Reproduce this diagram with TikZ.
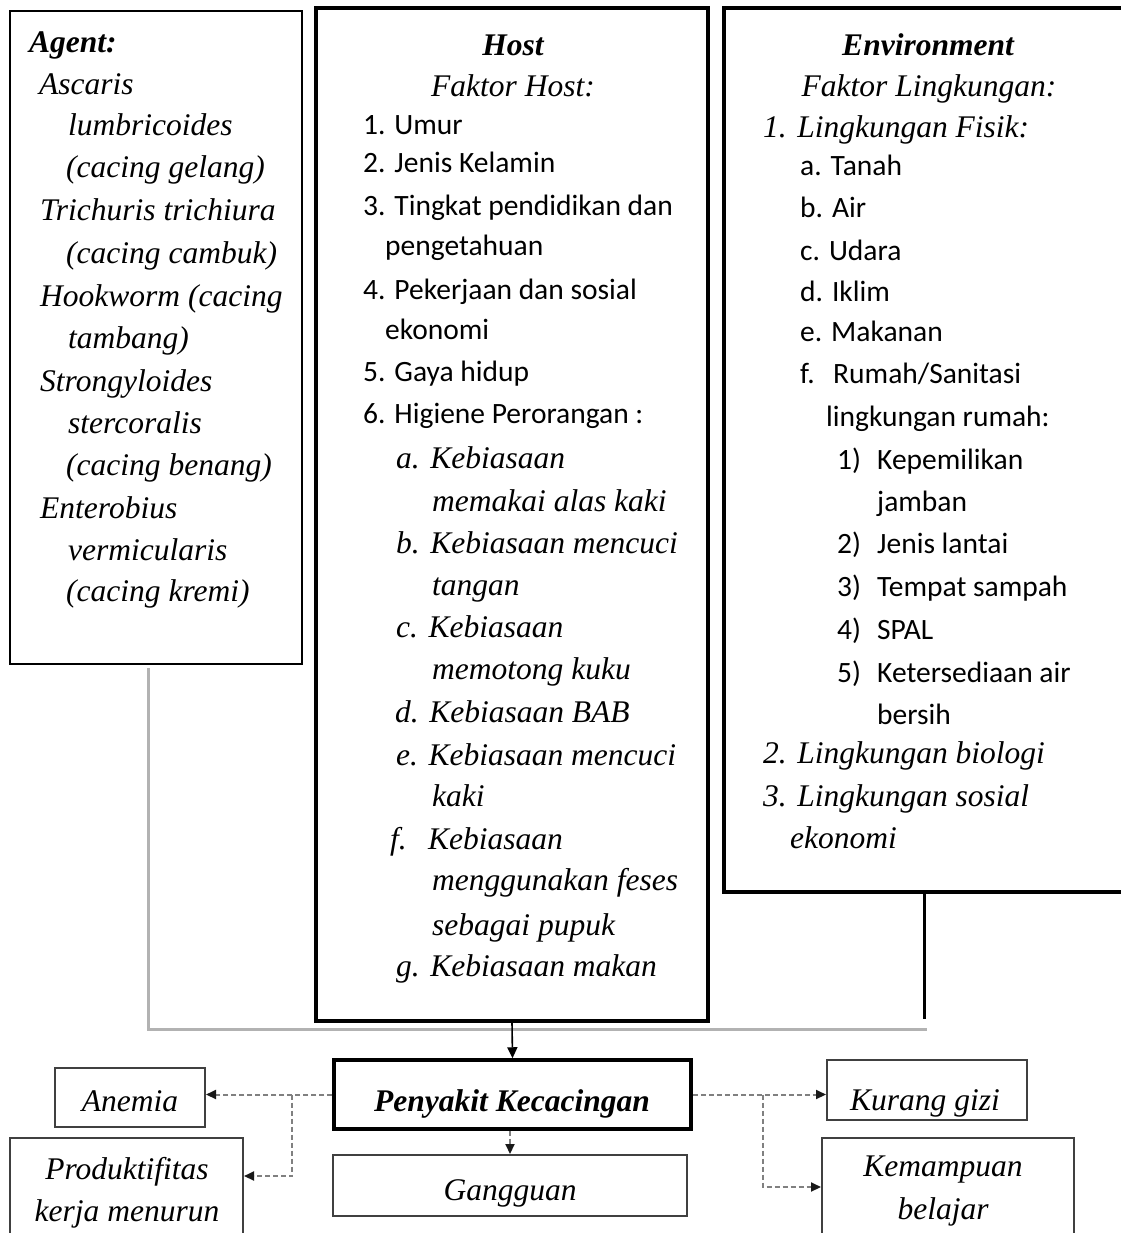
\documentclass[tikz,border=0pt]{standalone}
\usepackage{fontspec}
\setmainfont{Liberation Serif}
\newfontfamily\calfont{Carlito}
\usetikzlibrary{arrows.meta}
\newcommand\serfont{\fontsize{31.5}{38}\selectfont\itshape}
\newcommand\sansfont{\fontsize{29.5}{36}\selectfont\calfont}
\begin{document}
\begin{tikzpicture}[x=1pt,y=-1pt,
  boxthick/.style={draw=black,line width=3.5pt,rectangle,inner sep=0pt},
  boxthin/.style={draw=black,line width=1.6pt,rectangle,inner sep=0pt},
  boxsmall/.style={draw=black!75,line width=2pt,rectangle,inner sep=0pt},
  ser/.style={anchor=base west,inner sep=0pt,font=\serfont,yshift=-3pt},
  sers/.style={anchor=base,inner sep=0pt,font=\serfont,yshift=-3pt},
  sns/.style={anchor=base west,inner sep=0pt,font=\sansfont,yshift=-3pt},
  grayline/.style={draw=black!30,line width=3pt},
  dotarrow/.style={draw=black!50,line width=2pt,dash pattern=on 5pt off 3pt,
     -{Triangle[length=10pt,width=9pt,color=black!90]}},
  solidarrow/.style={draw=black,line width=1.6pt,-{Triangle[length=11pt,width=10pt]}}
]
\useasboundingbox (0,0) rectangle (1120,1233);

% main boxes
\node[boxthin,minimum width=292pt,minimum height=653pt] (agent) at (156,337.5) {};
\node[boxthick,minimum width=392pt,minimum height=1013pt] (host) at (512,514.5) {};
\node[boxthick,minimum width=406pt,minimum height=884pt] (env) at (927,450) {};

% Agent text
\node[ser] (a0) at (29,50) {\bfseries Agent:};
\node[ser] (a1) at (39,92) {Ascaris};
\node[ser] (a2) at (68,133) {lumbricoides};
\node[ser] (a3) at (66,175) {(cacing gelang)};
\node[ser] (a4) at (40,218) {Trichuris trichiura};
\node[ser] (a5) at (66,260) {(cacing cambuk)};
\node[ser] (a6) at (40,303) {Hookworm (cacing};
\node[ser] (a7) at (68,345) {tambang)};
\node[ser] (a8) at (40,388) {Strongyloides};
\node[ser] (a9) at (68,430) {stercoralis};
\node[ser] (a10) at (66,472) {(cacing benang)};
\node[ser] (a11) at (40,515) {Enterobius};
\node[ser] (a12) at (68,557) {vermicularis};
\node[ser] (a13) at (66,598) {(cacing kremi)};

% Host text
\node[sers] (h0) at (513,53) {\bfseries Host};
\node[sers] (hf) at (513,94) {Faktor Host:};
\node[sns] (h1) at (363,132) {1. Umur};
\node[sns] (h2) at (363,170) {2. Jenis Kelamin};
\node[sns] (h3) at (363,213) {3. Tingkat pendidikan dan};
\node[sns] (h4) at (385,252) {pengetahuan};
\node[sns] (h5) at (363,296) {4. Pekerjaan dan sosial};
\node[sns] (h6) at (385,336) {ekonomi};
\node[sns] (h7) at (363,378) {5. Gaya hidup};
\node[sns] (h8) at (363,420) {6. Higiene Perorangan :};
\node[ser] (h9) at (396,465) {a. Kebiasaan};
\node[ser] (h10) at (432,508) {memakai alas kaki};
\node[ser] (h11) at (396,550) {b. Kebiasaan mencuci};
\node[ser] (h12) at (432,592) {tangan};
\node[ser] (h13) at (396,634) {c. Kebiasaan};
\node[ser] (h14) at (432,676) {memotong kuku};
\node[ser] (h15) at (395,719) {d. Kebiasaan BAB};
\node[ser] (h16) at (396,762) {e. Kebiasaan mencuci};
\node[ser] (h17) at (432,803) {kaki};
\node[ser] (h18) at (390,846) {\makebox[38pt][l]{f.}Kebiasaan};
\node[ser] (h19) at (432,887) {menggunakan feses};
\node[ser] (h20) at (432,932) {sebagai pupuk};
\node[ser] (h21) at (396,973) {g. Kebiasaan makan};

% Environment text
\node[sers] (e0) at (928,53) {\bfseries Environment};
\node[sers] (ef) at (929,94) {Faktor Lingkungan:};
\node[ser] (e2) at (763,135) {1. Lingkungan Fisik:};
\node[sns] (e3) at (800,173) {a. Tanah};
\node[sns] (e4) at (800,215) {b. Air};
\node[sns] (e5) at (800,257) {c. Udara};
\node[sns] (e6) at (800,298) {d. Iklim};
\node[sns] (e7) at (800,338) {e. Makanan};
\node[sns] (e8) at (800,380) {\makebox[33pt][l]{f.}Rumah/Sanitasi};
\node[sns] (e9) at (826,423) {lingkungan rumah:};
\node[sns] (e10) at (837,466) {\makebox[40pt][l]{1)}Kepemilikan};
\node[sns] (e11) at (877,508) {jamban};
\node[sns] (e12) at (837,550) {\makebox[40pt][l]{2)}Jenis lantai};
\node[sns] (e13) at (837,593) {\makebox[40pt][l]{3)}Tempat sampah};
\node[sns] (e14) at (837,636) {\makebox[40pt][l]{4)}SPAL};
\node[sns] (e15) at (837,679) {\makebox[40pt][l]{5)}Ketersediaan air};
\node[sns] (e16) at (877,721) {bersih};
\node[ser] (e17) at (763,760) {2. Lingkungan biologi};
\node[ser] (e18) at (763,803) {3. Lingkungan sosial};
\node[ser] (e19) at (790,845) {ekonomi};

% bottom boxes
\node[boxthick,minimum width=357pt,minimum height=69pt] (pk) at (512.5,1094.5) {};
\node[sers] (pkt) at (512,1108) {\bfseries Penyakit Kecacingan};
\node[boxsmall,minimum width=150pt,minimum height=59pt] (an) at (130,1097.5) {};
\node[sers] (ant) at (130,1108) {Anemia};
\node[boxsmall,minimum width=233pt,minimum height=102pt] (pr) at (126.5,1189) {};
\node[sers] (prt1) at (127,1176) {Produktifitas};
\node[sers] (prt2) at (127,1218) {kerja menurun};
\node[boxsmall,minimum width=354pt,minimum height=61pt] (gg) at (510,1185.5) {};
\node[sers] (ggt) at (510,1197) {Gangguan};
\node[boxsmall,minimum width=200pt,minimum height=60pt] (kg) at (927,1090) {};
\node[sers] (kgt) at (925,1107) {Kurang gizi};
\node[boxsmall,minimum width=252pt,minimum height=102pt] (km) at (948,1189) {};
\node[sers] (kmt1) at (943,1173) {Kemampuan};
\node[sers] (kmt2) at (943,1216) {belajar};

% connector coordinates
\coordinate (ga) at (148,668);
\coordinate (gc) at (148,1029);
\coordinate (ge) at (927,1029);
\coordinate (ev) at (924,892);
\coordinate (evb) at (924,1019);
\coordinate (bl) at (292,1094.5);
\coordinate (pry) at (0,1176);
\coordinate (br) at (763,1094.5);
\coordinate (kmy) at (0,1187);

% connectors
\draw[grayline] (ga) -- (gc) -- (ge);
\draw[draw=black,line width=3pt] (ev) -- (evb);
\draw[solidarrow] (host.south) -- (pk.north);
\draw[dotarrow] (pk.west) -- (pk.west -| an.east);
\draw[dotarrow] (bl) |- (pr.east |- pry);
\draw[dotarrow] (pk.east) -- (pk.east -| kg.west);
\draw[dotarrow] (br) |- (km.west |- kmy);
\draw[dotarrow] (pk.south -| gg.north) -- (gg.north);
\end{tikzpicture}
\end{document}
